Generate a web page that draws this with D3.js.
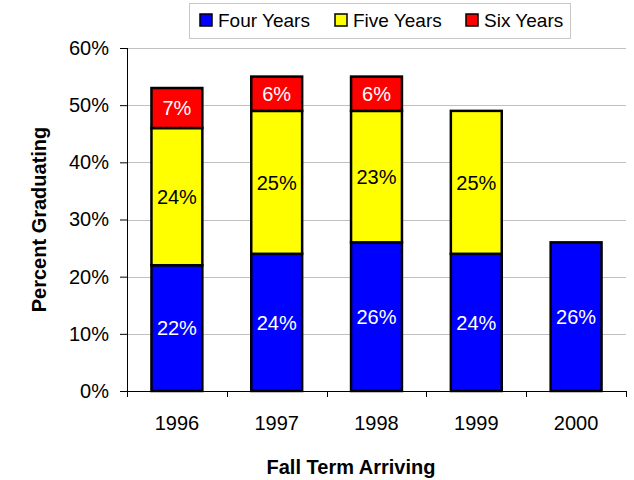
<!DOCTYPE html>
<html>
<head>
<meta charset="utf-8">
<script src="https://cdn.jsdelivr.net/npm/d3@7"></script>
<style>
  body { margin: 0; background: #fff; }
  text { font-family: "Liberation Sans", Arial, sans-serif; }
</style>
</head>
<body>
<svg id="chart"></svg>
<script>
var years = ["1996", "1997", "1998", "1999", "2000"];
var fourYears = [22, 24, 26, 24, 26];
var fiveYears = [24, 25, 23, 25, 0];
var sixYears = [7, 6, 6, 0, 0];
var seriesNames = ["Four Years", "Five Years", "Six Years"];
var seriesColors = ["#0000ff", "#ffff00", "#ff0000"];
var labelColors = ["#ffffff", "#000000", "#ffffff"];
var yTicks = [0, 10, 20, 30, 40, 50, 60];

var screen = {width: 634, height: 480};
var margins = {top: 48, bottom: 89, left: 127, right: 8};
var graph = {
    width: screen.width - margins.left - margins.right,
    height: screen.height - margins.top - margins.bottom
};
var fontFam = "'Liberation Sans', Arial, sans-serif";

var svg = d3.select("#chart")
    .attr("width", screen.width)
    .attr("height", screen.height);

var table = years.map(function(y, i) {
    return {year: y, "Four Years": fourYears[i], "Five Years": fiveYears[i], "Six Years": sixYears[i]};
});
var stacked = d3.stack().keys(seriesNames)(table);

var x = d3.scaleBand()
    .domain(years)
    .range([0, graph.width])
    .paddingInner(0.49)
    .paddingOuter(0.245);
var y = d3.scaleLinear()
    .domain([0, 60])
    .range([graph.height, 0]);

var g = svg.append("g")
    .attr("transform", "translate(" + margins.left + "," + margins.top + ")");

// gridlines
g.append("g")
    .selectAll("line")
    .data(yTicks.slice(1))
    .enter()
    .append("line")
    .attr("x1", 0)
    .attr("x2", graph.width)
    .attr("y1", function(d) { return Math.round(y(d)) + 0.5; })
    .attr("y2", function(d) { return Math.round(y(d)) + 0.5; })
    .attr("stroke", "#c0c0c0")
    .attr("stroke-width", 1);

// bars
var layers = g.selectAll(".layer")
    .data(stacked)
    .enter()
    .append("g")
    .attr("class", "layer")
    .attr("fill", function(d, i) { return seriesColors[i]; });

layers.selectAll("rect")
    .data(function(d) { return d.filter(function(e) { return e[1] - e[0] > 0; }); })
    .enter()
    .append("rect")
    .attr("x", function(d) { return x(d.data.year); })
    .attr("y", function(d) { return y(d[1]); })
    .attr("width", x.bandwidth())
    .attr("height", function(d) { return y(d[0]) - y(d[1]); })
    .attr("stroke", "#000")
    .attr("stroke-width", 2.5);

layers.selectAll("text")
    .data(function(d, i) {
        return d.filter(function(e) { return e[1] - e[0] > 0; })
            .map(function(e) { return {e: e, i: i}; });
    })
    .enter()
    .append("text")
    .attr("x", function(d) { return x(d.e.data.year) + x.bandwidth() / 2; })
    .attr("y", function(d) { return (y(d.e[0]) + y(d.e[1])) / 2; })
    .attr("dy", "0.36em")
    .attr("text-anchor", "middle")
    .attr("font-size", 20)
    .attr("fill", function(d) { return labelColors[d.i]; })
    .text(function(d) { return (d.e[1] - d.e[0]) + "%"; });

// y axis
var yAxis = d3.axisLeft(y)
    .tickValues(yTicks)
    .tickSize(7)
    .tickPadding(11)
    .tickFormat(function(d) { return d + "%"; });
var yg = g.append("g").call(yAxis);
yg.select(".domain").attr("d", "M0.5," + graph.height + "V0").attr("stroke", "#000");
yg.selectAll("text").attr("font-size", 20).attr("fill", "#000").attr("font-family", fontFam);
yg.selectAll(".tick line").attr("stroke", "#000");

// x axis
var xg = g.append("g")
    .attr("transform", "translate(0," + graph.height + ")");
xg.append("line")
    .attr("x1", 0)
    .attr("x2", graph.width)
    .attr("y1", 0.5)
    .attr("y2", 0.5)
    .attr("stroke", "#000");
var step = x.step();
var bounds = d3.range(years.length + 1).map(function(i) { return i * step; });
xg.selectAll(".xtick")
    .data(bounds)
    .enter()
    .append("line")
    .attr("x1", function(d) { return Math.round(d) + 0.5; })
    .attr("x2", function(d) { return Math.round(d) + 0.5; })
    .attr("y1", 0)
    .attr("y2", 6)
    .attr("stroke", "#000");
xg.selectAll(".xlabel")
    .data(years)
    .enter()
    .append("text")
    .attr("x", function(d) { return x(d) + x.bandwidth() / 2; })
    .attr("y", 39)
    .attr("text-anchor", "middle")
    .attr("font-size", 20)
    .text(function(d) { return d; });

// axis titles
svg.append("text")
    .attr("transform", "translate(46," + (margins.top + graph.height / 2) + ") rotate(-90)")
    .attr("text-anchor", "middle")
    .attr("font-size", 20)
    .attr("font-weight", "bold")
    .text("Percent Graduating");
svg.append("text")
    .attr("x", 351)
    .attr("y", 474)
    .attr("text-anchor", "middle")
    .attr("font-size", 20)
    .attr("font-weight", "bold")
    .text("Fall Term Arriving");

// legend
var legend = svg.append("g");
legend.append("rect")
    .attr("x", 189.5)
    .attr("y", 3.5)
    .attr("width", 381)
    .attr("height", 35)
    .attr("fill", "#fff")
    .attr("stroke", "#c8c8c8");
var legendX = [200, 335, 466];
var items = legend.selectAll(".item")
    .data(seriesNames)
    .enter()
    .append("g")
    .attr("transform", function(d, i) { return "translate(" + legendX[i] + ",14)"; });
items.append("rect")
    .attr("width", 12)
    .attr("height", 12)
    .attr("fill", function(d, i) { return seriesColors[i]; })
    .attr("stroke", "#000")
    .attr("stroke-width", 1.5);
items.append("text")
    .attr("x", 18)
    .attr("y", 13)
    .attr("font-size", 19)
    .text(function(d) { return d; });
</script>
</body>
</html>
